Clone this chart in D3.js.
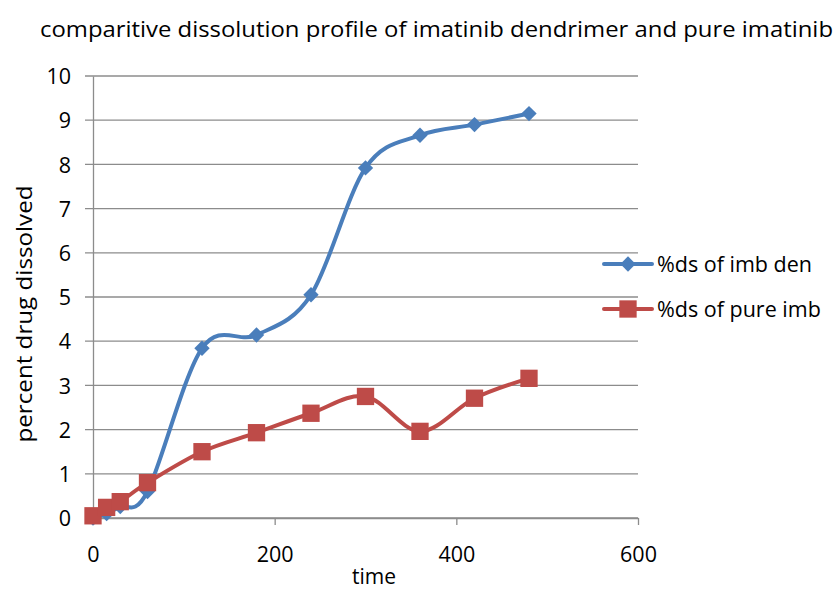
<!DOCTYPE html>
<html>
<head>
<meta charset="utf-8">
<script src="https://cdn.jsdelivr.net/npm/d3@7"></script>
<style>
body { margin: 0; background: #fff; }
text { font-family: "Open Sans", Lato, sans-serif; fill: #000; }
</style>
</head>
<body>
<div id="chart"></div>
<script>
// data
var times = [0, 15, 30, 60, 120, 180, 240, 300, 360, 420, 480];
var denValues = [0.0, 0.1, 0.26, 0.6, 3.84, 4.14, 5.05, 7.92, 8.66, 8.9, 9.15];
var pureValues = [0.05, 0.24, 0.37, 0.8, 1.5, 1.93, 2.37, 2.75, 1.96, 2.71, 3.16];
var seriesNames = ["%ds of imb den", "%ds of pure imb"];
var xTicks = [0, 200, 400, 600];
var yTicks = [0, 1, 2, 3, 4, 5, 6, 7, 8, 9, 10];

var svgWidth = 840;
var svgHeight = 593;
var chartMargin = { top: 76, right: 202, bottom: 75, left: 93 };
var chartWidth = svgWidth - chartMargin.left - chartMargin.right;
var chartHeight = svgHeight - chartMargin.top - chartMargin.bottom;

var svg = d3.select("#chart").append("svg")
    .attr("width", svgWidth)
    .attr("height", svgHeight);

var chartGroup = svg.append("g")
    .attr("transform", `translate(${chartMargin.left}, ${chartMargin.top})`);

var xScale = d3.scaleLinear().domain([0, 600]).range([0, chartWidth]);
var yScale = d3.scaleLinear().domain([0, 10]).range([chartHeight, 0]);

// gridlines
chartGroup.append("g")
    .selectAll("line")
    .data(yTicks)
    .enter()
    .append("line")
    .attr("x1", -8)
    .attr("x2", chartWidth)
    .attr("y1", d => yScale(d))
    .attr("y2", d => yScale(d))
    .attr("stroke", "#8c8c8c")
    .attr("stroke-width", 1.3);

// y axis
var leftAxis = d3.axisLeft(yScale).tickValues(yTicks).tickSize(0).tickPadding(22);
var yAxis = chartGroup.append("g").call(leftAxis);
yAxis.select(".domain").attr("stroke", "#8c8c8c").attr("stroke-width", 1.3);
yAxis.selectAll("text").style("font-size", "21.5px").attr("dy", "0.36em");

// x axis
var bottomAxis = d3.axisBottom(xScale).tickValues(xTicks).tickSize(7).tickSizeOuter(0).tickPadding(22);
var xAxis = chartGroup.append("g")
    .attr("transform", `translate(0, ${chartHeight})`)
    .call(bottomAxis);
xAxis.select(".domain").attr("stroke", "#8c8c8c").attr("stroke-width", 1.3);
xAxis.selectAll("line").attr("stroke", "#8c8c8c").attr("stroke-width", 1.3);
xAxis.selectAll("text").style("font-size", "21.5px");

var colors = ["#4a7ebb", "#be4b48"];
var allSeries = [denValues, pureValues];

var line = d3.line()
    .x(d => xScale(d[0]))
    .y(d => yScale(d[1]))
    .curve(d3.curveCardinal.tension(0));

var diamond = d3.symbol().type(d3.symbolDiamond2).size(150);
var square = d3.symbol().type(d3.symbolSquare).size(300);

allSeries.forEach(function(vals, i) {
    var pts = times.map((t, j) => [t, vals[j]]);
    chartGroup.append("path")
        .datum(pts)
        .attr("d", line)
        .attr("fill", "none")
        .attr("stroke", colors[i])
        .attr("stroke-width", 4)
        .attr("stroke-linecap", "round");
    chartGroup.append("g")
        .selectAll("path")
        .data(pts)
        .enter()
        .append("path")
        .attr("transform", d => `translate(${xScale(d[0])}, ${yScale(d[1])})`)
        .attr("d", i === 0 ? diamond : square)
        .attr("fill", colors[i]);
});

// title
svg.append("text")
    .attr("x", 40)
    .attr("y", 37)
    .attr("textLength", 793)
    .attr("lengthAdjust", "spacingAndGlyphs")
    .style("font-size", "21px")
    .text("comparitive dissolution profile of imatinib dendrimer and pure imatinib");

// axis labels
svg.append("text")
    .attr("x", 374)
    .attr("y", 584)
    .attr("text-anchor", "middle")
    .style("font-size", "21px")
    .text("time");

svg.append("text")
    .attr("transform", "translate(32, 314) rotate(-90)")
    .attr("text-anchor", "middle")
    .attr("textLength", 257)
    .attr("lengthAdjust", "spacingAndGlyphs")
    .style("font-size", "21px")
    .text("percent  drug dissolved");

// legend
var legend = svg.append("g");
seriesNames.forEach(function(name, i) {
    var ly = 264 + i * 45;
    legend.append("line")
        .attr("x1", 604).attr("x2", 652)
        .attr("y1", ly).attr("y2", ly)
        .attr("stroke", colors[i])
        .attr("stroke-width", 4)
        .attr("stroke-linecap", "round");
    legend.append("path")
        .attr("transform", `translate(628, ${ly})`)
        .attr("d", i === 0 ? diamond : square)
        .attr("fill", colors[i]);
    legend.append("text")
        .attr("x", 657)
        .attr("y", ly)
        .attr("dy", "0.35em")
        .style("font-size", "21.5px")
        .text(name);
});
</script>
</body>
</html>
